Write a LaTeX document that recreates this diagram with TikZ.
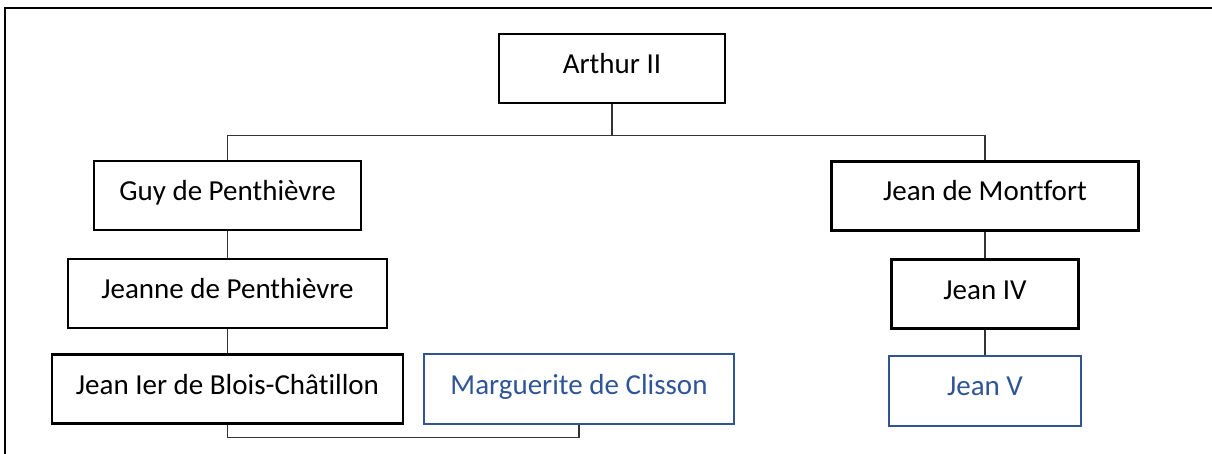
\documentclass[tikz,border=0pt]{standalone}
\usepackage{fontspec}
\setmainfont{Carlito}[Ligatures=NoCommon]
\usepackage{tikz}
\usetikzlibrary{positioning,calc}
\definecolor{wordblue}{HTML}{2F5597}

\begin{document}
\begin{tikzpicture}[x=1pt, y=-1pt,
  every node/.style={font=\fontsize{29}{34}\selectfont},
  pers/.style ={draw=black, line width=2.2pt, minimum height=69pt, inner sep=0pt,
                text height=20pt, text depth=10pt, align=center, text=black},
  spouse/.style={draw=wordblue, line width=2pt, minimum height=70pt, inner sep=0pt,
                text height=20pt, text depth=10pt, align=center, text=wordblue},
  conn/.style ={draw, black!80, line width=1.1pt},
  frame/.style={draw, line width=2pt}]

\useasboundingbox (0,0) rectangle (1212,454);

%% ── Frame (top and left edges only) ─────────────────────────────
\draw[frame] (5,454) -- (5,8) -- (1212,8);

%% ── Generation 1 ────────────────────────────────────────────────
\node[pers, minimum width=226pt] (arthur)   at (612, 68.5) {Arthur II};

%% ── Generation 2 ────────────────────────────────────────────────
\node[pers, minimum width=267pt] (guy)      at (227.5, 195.5) {Guy de Penthièvre};
\node[pers, minimum width=307pt] (montfort) at (985, 196)     {Jean de Montfort};

%% ── Generation 3 ────────────────────────────────────────────────
\node[pers, minimum width=319pt] (jeanne)   at (227.5, 293.5) {Jeanne de Penthièvre};
\node[pers, minimum width=187pt] (jeaniv)   at (985, 294)     {Jean IV};

%% ── Generation 4 ────────────────────────────────────────────────
\node[pers, minimum width=351pt] (jeanier)    at (227.5, 389) {Jean Ier de Blois-Châtillon};
\node[spouse, minimum width=310pt] (marguerite) at (579, 389) {Marguerite de Clisson};
\node[spouse, minimum width=192pt] (jeanv)      at (985, 390.5) {Jean V};

%% ── Connectors ──────────────────────────────────────────────────
\draw[conn] (arthur.south) -- ++(0,31) coordinate (split);
\draw[conn] (guy.north) |- (split) -| (montfort.north);
\draw[conn] (guy) -- (jeanne);
\draw[conn] (jeanne) -- (jeanier);
\draw[conn] (montfort) -- (jeaniv);
\draw[conn] (jeaniv) -- (jeanv);
\draw[conn] (jeanier.south) -- ++(0,13) -| (marguerite.south);
\end{tikzpicture}
\end{document}
